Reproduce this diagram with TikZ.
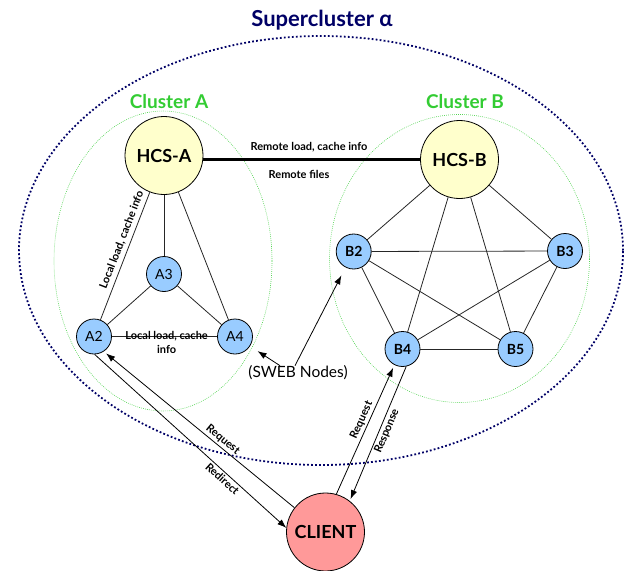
\documentclass[tikz,border=0pt]{standalone}
\usepackage{fontspec}
\setmainfont{Lato}
\usetikzlibrary{arrows.meta}
\definecolor{navy}{HTML}{000066}
\definecolor{clgreen}{HTML}{33CC33}
\definecolor{nodeblue}{HTML}{99CCFF}
\definecolor{hcsyellow}{HTML}{FFFFCC}
\definecolor{clientred}{HTML}{FF9999}
\begin{document}
\begin{tikzpicture}[x=1pt,y=-1pt,
  every node/.style={inner sep=0pt},
  hcs/.style={circle, draw=black, line width=0.8pt, fill=hcsyellow,
    minimum size=78pt, font=\fontsize{18}{20}\selectfont\bfseries},
  anode/.style={circle, draw=black, line width=0.8pt, fill=nodeblue,
    minimum size=35pt, font=\fontsize{14}{16}\selectfont},
  bnode/.style={anode, font=\fontsize{14}{16}\selectfont\bfseries},
  clientnode/.style={circle, draw=black, line width=0.8pt, fill=clientred,
    minimum size=78pt, font=\fontsize{18}{20}\selectfont\bfseries},
  link/.style={draw=black!85, line width=0.8pt},
  trunk/.style={draw=black, line width=2.2pt},
  arr/.style={draw=black, line width=0.8pt, -{Latex[length=9pt,width=6.5pt]}},
  lbl/.style={font=\fontsize{11}{13.5}\selectfont\bfseries, inner sep=2pt},
  super/.style={draw=navy, line width=1.8pt, dash pattern=on 1.8pt off 2.2pt},
  cluster/.style={draw=clgreen!85, line width=0.6pt, dash pattern=on 0.8pt off 1.2pt},
  title/.style={text=navy, font=\fontsize{22}{24}\selectfont\bfseries},
  cltitle/.style={text=clgreen, font=\fontsize{19}{21}\selectfont\bfseries}
]
\useasboundingbox (0,0) rectangle (625,571);

% supercluster and the two clusters
\draw[super] (321,250.5) ellipse [x radius=302pt, y radius=214.5pt];
\draw[cluster] (163,261) ellipse [x radius=109pt, y radius=150pt];
\draw[cluster] (459.5,258.5) ellipse [x radius=130pt, y radius=144pt];

\node[title] (sctitle) at (322,20) {Supercluster α};
\node[cltitle] (clatitle) at (169,102) {Cluster A};
\node[cltitle] (clbtitle) at (465,102) {Cluster B};

% servers
\node[hcs] (hcsa) at (164,155.5) {HCS-A};
\node[hcs] (hcsb) at (459.5,159.5) {HCS-B};
\node[anode] (a3) at (164,274) {A3};
\node[anode] (a2) at (94,336.5) {A2};
\node[anode] (a4) at (235,336.5) {A4};
\node[bnode] (b2) at (353.7,251.5) {B2};
\node[bnode] (b3) at (565,251) {B3};
\node[bnode] (b4) at (402.5,349) {B4};
\node[bnode] (b5) at (515.5,349) {B5};
\node[clientnode] (client) at (325.5,532) {CLIENT};
\node[font=\fontsize{15.5}{18}\selectfont] (sweb) at (298,373) {(SWEB Nodes)};

% link between the two head servers
\draw[trunk] (hcsa.east |- hcsb) -- (hcsb);
\node[lbl] (remload) at (309,147) {Remote load, cache info};
\node[lbl] (remfiles) at (299,174) {Remote files};

% cluster A
\draw[link] (a2) -- node[lbl, sloped, above, pos=0.6, inner sep=3.5pt] {Local load, cache info} (hcsa);
\draw[link] (hcsa) -- (a3);
\draw[link] (hcsa) -- (a4);
\draw[link] (a3) -- (a2);
\draw[link] (a3) -- (a4);
\draw[link] (a2) -- node[lbl, align=center, pos=0.52, yshift=-6pt] {Local load, cache\\info} (a4);

% cluster B: every pair is connected
\foreach \u/\v in {hcsb/b2, hcsb/b3, hcsb/b4, hcsb/b5, b2/b3, b2/b4, b2/b5, b3/b4, b3/b5, b4/b5}
  \draw[link] (\u) -- (\v);

% pointers from the SWEB label
\draw[arr, shorten >=9pt] ([xshift=-18pt]sweb.north) -- (a4);
\draw[arr, shorten >=9pt] ([xshift=-3pt]sweb.north) -- (b2);

% client traffic
\draw[arr, shorten >=3pt] (client.142) -- node[lbl, sloped, above, pos=0.4] {Request} (a2.-57);
\draw[arr] (a2.-88) -- node[lbl, sloped, below, pos=0.69] {Redirect} (client.174);
\draw[arr, shorten >=3pt] (client.74) -- node[lbl, sloped, above, pos=0.55] {Request} (b4.-117);
\draw[arr, shorten >=2pt] (b4.-78) -- node[lbl, sloped, below, pos=0.46] {Response} (client.52);
\end{tikzpicture}
\end{document}
